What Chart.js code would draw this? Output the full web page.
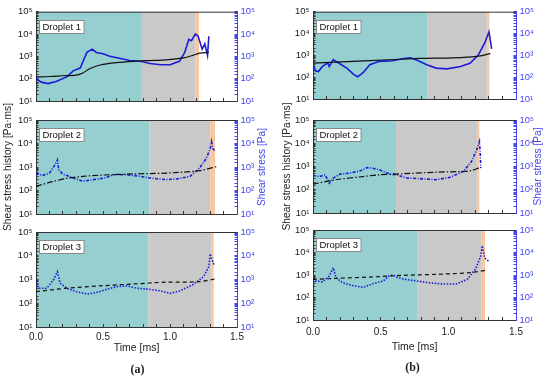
<!DOCTYPE html>
<html>
<head>
<meta charset="utf-8">
<script src="https://cdn.jsdelivr.net/npm/chart.js@4/dist/chart.umd.min.js"></script>
<style>
html, body { margin: 0; padding: 0; background: #fff; }
#wrap { position: relative; width: 550px; height: 381px; overflow: hidden; }
#wrap canvas { position: absolute; top: 0; }
</style>
</head>
<body>
<div id="wrap">
    <canvas id="a1" width="275" height="381" style="left:0px"></canvas>
    <canvas id="a2" width="275" height="381" style="left:0px"></canvas>
    <canvas id="a3" width="275" height="381" style="left:0px"></canvas>
    <canvas id="b1" width="275" height="381" style="left:275px"></canvas>
    <canvas id="b2" width="275" height="381" style="left:275px"></canvas>
    <canvas id="b3" width="275" height="381" style="left:275px"></canvas>
</div>
<script>
// ---- data ----
// band edges [end of teal, end of gray, end of orange] in ms
const bands_a1 = [0.79, 1.19, 1.216];
const bands_a2 = [0.846, 1.30, 1.336];
const bands_a3 = [0.838, 1.311, 1.326];
const bands_b1 = [0.848, 1.291, 1.303];
const bands_b2 = [0.613, 1.217, 1.229];
const bands_b3 = [0.774, 1.247, 1.271];

// shear stress history [Pa·ms] (black)
const histTime_a1 = [0, 0.1, 0.2, 0.3, 0.35, 0.4, 0.48, 0.6, 0.73, 0.85, 0.97, 1.1, 1.17, 1.22, 1.29];
const hist_a1 = [120, 125, 135, 145, 180, 280, 410, 520, 600, 650, 700, 850, 1100, 1400, 1500];
const histTime_a2 = [0, 0.1, 0.23, 0.35, 0.48, 0.73, 0.97, 1.22, 1.35];
const hist_a2 = [150, 220, 330, 400, 450, 510, 550, 700, 1050];
const histTime_a3 = [0, 0.23, 0.48, 0.73, 0.97, 1.22, 1.35];
const hist_a3 = [310, 430, 540, 650, 770, 810, 1100];
const histTime_b1 = [0, 0.42, 0.79, 1.04, 1.21, 1.31];
const hist_b1 = [440, 570, 720, 770, 900, 1200];
const histTime_b2 = [0, 0.17, 0.37, 0.49, 0.67, 0.91, 1.16, 1.24];
const hist_b2 = [175, 270, 370, 440, 490, 570, 650, 940];
const histTime_b3 = [0, 0.17, 0.42, 0.67, 0.91, 1.16, 1.29];
const hist_b3 = [640, 710, 810, 970, 1070, 1270, 1680];

// shear stress [Pa] (blue)
const stressTime_a1 = [0, 0.04, 0.09, 0.15, 0.23, 0.28, 0.33, 0.35, 0.38, 0.42, 0.45, 0.5, 0.55, 0.63, 0.7, 0.78, 0.85, 0.93, 1.0, 1.07, 1.11, 1.14, 1.16, 1.19, 1.21, 1.24, 1.26, 1.28, 1.29];
const stress_a1 = [100, 70, 60, 75, 120, 230, 300, 570, 1500, 2100, 1500, 1300, 1000, 800, 650, 600, 480, 420, 420, 600, 1500, 5700, 5000, 10000, 8000, 2100, 3600, 1100, 8000];
const stressTime_a2 = [0, 0.05, 0.1, 0.14, 0.16, 0.17, 0.2, 0.28, 0.35, 0.43, 0.51, 0.58, 0.68, 0.78, 0.85, 0.97, 1.05, 1.15, 1.22, 1.27, 1.3, 1.31, 1.32, 1.34];
const stress_a2 = [550, 440, 550, 1200, 2000, 750, 500, 340, 250, 290, 340, 470, 470, 400, 340, 290, 310, 400, 900, 2300, 6000, 12000, 6000, 4500];
const stressTime_a3 = [0, 0.02, 0.08, 0.13, 0.16, 0.18, 0.23, 0.3, 0.38, 0.45, 0.53, 0.6, 0.68, 0.75, 0.84, 0.93, 1.0, 1.07, 1.17, 1.25, 1.29, 1.3, 1.32, 1.33];
const stress_a3 = [950, 430, 430, 950, 2100, 700, 430, 310, 245, 280, 390, 500, 540, 430, 390, 330, 260, 330, 600, 1300, 3500, 12000, 5500, 4000];
const stressTime_b1 = [0, 0.02, 0.04, 0.07, 0.11, 0.12, 0.15, 0.17, 0.21, 0.25, 0.3, 0.33, 0.37, 0.42, 0.49, 0.59, 0.67, 0.72, 0.77, 0.84, 0.91, 0.99, 1.09, 1.16, 1.22, 1.27, 1.3, 1.31, 1.32];
const stress_b1 = [370, 190, 180, 310, 450, 310, 640, 530, 370, 260, 135, 104, 160, 370, 530, 570, 720, 770, 600, 370, 260, 240, 310, 430, 1000, 3800, 12000, 5000, 2000];
const stressTime_b2 = [0, 0.05, 0.09, 0.12, 0.15, 0.2, 0.27, 0.35, 0.4, 0.44, 0.49, 0.57, 0.62, 0.69, 0.79, 0.91, 1.01, 1.11, 1.17, 1.21, 1.23, 1.235, 1.24];
const stress_b2 = [410, 370, 440, 190, 320, 470, 520, 650, 900, 850, 720, 470, 440, 320, 300, 270, 340, 610, 1600, 5200, 12000, 4400, 850];
const stressTime_b3 = [0, 0.02, 0.07, 0.12, 0.15, 0.17, 0.22, 0.3, 0.37, 0.44, 0.52, 0.56, 0.59, 0.62, 0.67, 0.77, 0.86, 0.96, 1.06, 1.14, 1.2, 1.24, 1.25, 1.27, 1.3];
const stress_b3 = [690, 540, 500, 900, 2100, 760, 450, 330, 280, 410, 540, 900, 1000, 800, 650, 540, 450, 400, 400, 640, 1800, 7000, 20000, 5600, 4000];

const dropletLabels = ['Droplet 1', 'Droplet 2', 'Droplet 3'];

// ---- styles ----
const TEAL = '#95cfcf';
const GRAY = '#c9c9c9';
const ORANGE = '#f8c6a0';
const BLUE = '#1c1cd8';
const BLUE_AXIS = '#4444ee';
const DARK = '#333333';
const histDash = [[], [6, 2, 1.5, 2], [4, 3]];
const stressDash = [[], [3, 1.5, 1, 1.5], [1.5, 1.5]];

Chart.defaults.font.family = '"Liberation Sans", Arial, sans-serif';
Chart.defaults.font.size = 10;
Chart.defaults.color = DARK;

const SUP = ['\u2070', '\u00b9', '\u00b2', '\u00b3', '\u2074', '\u2075'];
function powerLabel(v) {
    const e = Math.log10(v);
    const p = Math.round(e);
    return Math.abs(e - p) < 1e-6 ? '10' + SUP[p] : '';
}

function xy(t, v) {
    return t.map((x, i) => ({ x: x, y: v[i] }));
}

// background bands, top frame line, droplet tag and the right-hand axis title
const bandPlugin = {
    id: 'bands',
    beforeDraw(chart, args, opts) {
        const { ctx, chartArea: a, scales: { x } } = chart;
        const edges = [0].concat(opts.edges);
        const colors = [TEAL, GRAY, ORANGE];
        ctx.save();
        for (let i = 0; i < 3; i++) {
            const x0 = x.getPixelForValue(edges[i]);
            const x1 = x.getPixelForValue(edges[i + 1]);
            ctx.fillStyle = colors[i];
            ctx.fillRect(x0, a.top, x1 - x0, a.bottom - a.top);
        }
        ctx.restore();
    },
    afterDatasetsDraw(chart, args, opts) {
        const { ctx, chartArea: a } = chart;
        ctx.save();
        ctx.strokeStyle = DARK;
        ctx.lineWidth = 1;
        ctx.beginPath();
        ctx.moveTo(a.left, a.top + 0.5);
        ctx.lineTo(a.right, a.top + 0.5);
        ctx.stroke();

        ctx.font = '9.5px "Liberation Sans", Arial, sans-serif';
        const w = ctx.measureText(opts.label).width + 6;
        const bx = Math.round(a.left + 3) + 0.5;
        const by = Math.round(a.top + 8) + 0.5;
        ctx.fillStyle = '#ffffff';
        ctx.fillRect(bx, by, w, 13);
        ctx.strokeStyle = '#8a8a8a';
        ctx.strokeRect(bx, by, w, 13);
        ctx.fillStyle = '#111';
        ctx.textBaseline = 'middle';
        ctx.fillText(opts.label, bx + 3, by + 7);

        // right axis title reads bottom-to-top like the left one
        if (opts.rightTitle) {
            const s = chart.scales.y2;
            ctx.font = '10.2px "Liberation Sans", Arial, sans-serif';
            ctx.fillStyle = BLUE_AXIS;
            ctx.textAlign = 'center';
            ctx.textBaseline = 'middle';
            ctx.translate(s.right - opts.rightTitleOffset, (s.top + s.bottom) / 2);
            ctx.rotate(-Math.PI / 2);
            ctx.fillText(opts.rightTitle, 0, 0);
        }
        ctx.restore();
    }
};
Chart.register(bandPlugin);

// column geometry
const columns = {
    a: { left: 0, plotL: 36, plotR: 237, tops: [8, 120, 232], bottoms: [101, 214, 327],
         xHeight: 28, xPad: 7, titlePad: 7.5, leftTitlePad: 2, rightTitleOffset: 13, tag: '(a)' },
    b: { left: 275, plotL: 313, plotR: 516, tops: [7, 120, 230], bottoms: [99, 213, 320],
         xHeight: 34.3, xPad: 9, titlePad: 6.5, leftTitlePad: 6, rightTitleOffset: 12, tag: '(b)' }
};

const panels = [
    { id: 'a1', col: 'a', row: 0, bands: bands_a1, hT: histTime_a1, h: hist_a1, sT: stressTime_a1, s: stress_a1 },
    { id: 'a2', col: 'a', row: 1, bands: bands_a2, hT: histTime_a2, h: hist_a2, sT: stressTime_a2, s: stress_a2 },
    { id: 'a3', col: 'a', row: 2, bands: bands_a3, hT: histTime_a3, h: hist_a3, sT: stressTime_a3, s: stress_a3 },
    { id: 'b1', col: 'b', row: 0, bands: bands_b1, hT: histTime_b1, h: hist_b1, sT: stressTime_b1, s: stress_b1 },
    { id: 'b2', col: 'b', row: 1, bands: bands_b2, hT: histTime_b2, h: hist_b2, sT: stressTime_b2, s: stress_b2 },
    { id: 'b3', col: 'b', row: 2, bands: bands_b3, hT: histTime_b3, h: hist_b3, sT: stressTime_b3, s: stress_b3 }
];

function makePanel(p) {
    const c = columns[p.col];
    const isBottom = p.row === 2;
    const isMiddle = p.row === 1;
    const xH = isBottom ? c.xHeight : 10;
    const titleH = isBottom ? 12 * 1.2 + c.titlePad : 0;
    const padBottom = 381 - c.bottoms[p.row] - xH - titleH;

    new Chart(document.getElementById(p.id), {
        type: 'line',
        data: {
            datasets: [
                {
                    data: xy(p.hT, p.h),
                    yAxisID: 'y',
                    borderColor: '#111',
                    borderWidth: 1.2,
                    borderDash: histDash[p.row],
                    pointRadius: 0,
                    tension: 0.3
                },
                {
                    data: xy(p.sT, p.s),
                    yAxisID: 'y2',
                    borderColor: BLUE,
                    borderWidth: 1.6,
                    borderDash: stressDash[p.row],
                    pointRadius: 0,
                    tension: 0
                }
            ]
        },
        options: {
            responsive: false,
            animation: false,
            devicePixelRatio: 1,
            layout: { padding: { top: c.tops[p.row], bottom: padBottom, left: 0, right: 0 } },
            plugins: {
                legend: { display: false },
                tooltip: { enabled: false },
                bands: {
                    edges: p.bands,
                    label: dropletLabels[p.row],
                    rightTitle: isMiddle ? 'Shear stress [Pa]' : '',
                    rightTitleOffset: c.rightTitleOffset
                },
                title: {
                    display: isBottom,
                    text: c.tag,
                    position: 'bottom',
                    color: '#222',
                    font: { family: '"Liberation Serif", "Times New Roman", serif', size: 12, weight: 'bold', lineHeight: 1.2 },
                    padding: { top: c.titlePad, bottom: 0 }
                }
            },
            scales: {
                x: {
                    type: 'linear',
                    min: 0,
                    max: 1.5,
                    afterFit: s => { s.height = xH; },
                    border: { color: DARK, width: 1 },
                    grid: { drawOnChartArea: false, tickLength: -3, tickColor: DARK },
                    ticks: {
                        stepSize: 0.1,
                        autoSkip: false,
                        maxRotation: 0,
                        padding: c.xPad,
                        color: '#222',
                        font: { size: 10 },
                        callback: v => (isBottom && Math.abs(v * 2 - Math.round(v * 2)) < 1e-6) ? v.toFixed(1) : ''
                    },
                    title: {
                        display: isBottom,
                        text: 'Time [ms]',
                        color: '#222',
                        font: { size: 10.5 },
                        padding: { top: 0, bottom: 1 }
                    }
                },
                y: {
                    type: 'logarithmic',
                    position: 'left',
                    min: 10,
                    max: 100000,
                    afterFit: s => { s.width = c.plotL - c.left; },
                    border: { color: DARK, width: 1 },
                    grid: { drawOnChartArea: false, tickLength: -2.5, tickColor: DARK },
                    ticks: { autoSkip: false, padding: 6, color: '#222', font: { size: 9.5 }, callback: powerLabel },
                    title: {
                        display: isMiddle,
                        text: 'Shear stress history [Pa\u00b7ms]',
                        color: '#222',
                        font: { size: 10.2 },
                        padding: { top: c.leftTitlePad, bottom: 0 }
                    }
                },
                y2: {
                    type: 'logarithmic',
                    position: 'right',
                    min: 10,
                    max: 100000,
                    afterFit: s => { s.width = c.left + 275 - c.plotR; },
                    border: { color: BLUE_AXIS, width: 1 },
                    grid: { drawOnChartArea: false, tickLength: -2.5, tickColor: BLUE_AXIS },
                    ticks: { autoSkip: false, padding: 6, color: BLUE_AXIS, font: { size: 9.5 }, callback: powerLabel }
                }
            }
        }
    });
}

panels.forEach(makePanel);
</script>
</body>
</html>
